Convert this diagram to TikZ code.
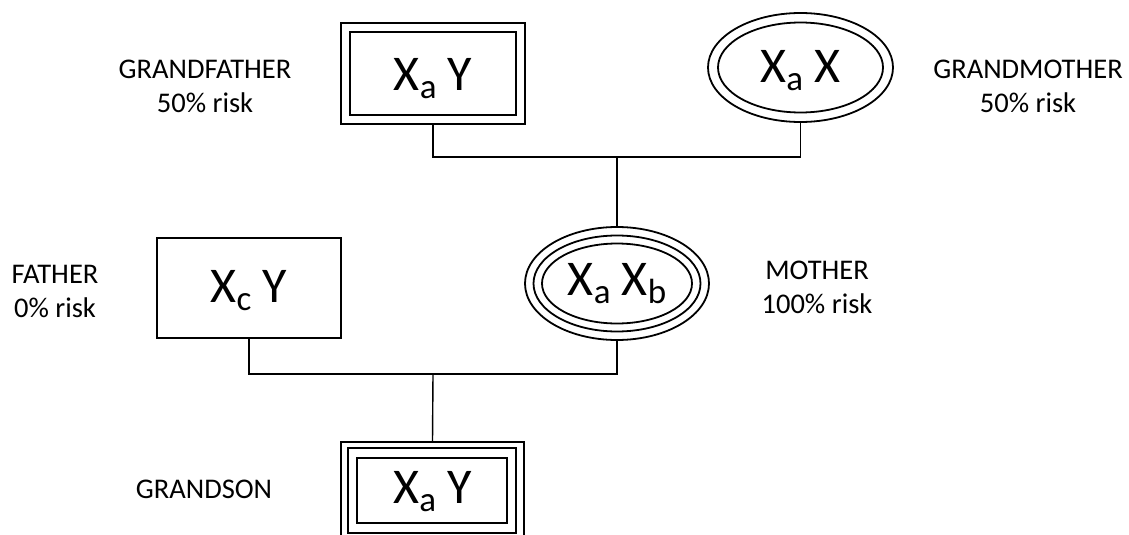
\documentclass[tikz,border=0pt]{standalone}
\usepackage{fontspec}
\setmainfont{Carlito}
\usetikzlibrary{shapes.geometric}
\newcommand{\subx}[1]{{\fontsize{35}{35}\selectfont\raisebox{-8pt}{#1}}}
\begin{document}
\begin{tikzpicture}[x=1pt,y=-1pt,
  shape line/.style={line width=1.8pt},
  conn/.style={line width=1.4pt},
  gene/.style={font=\fontsize{50}{50}\selectfont, inner sep=0pt, text depth=0pt},
  boxnode/.style={gene, draw, shape line, rectangle},
  ovalnode/.style={gene, draw, shape line, ellipse},
  lbl/.style={font=\fontsize{28.5}{34}\selectfont, align=center, inner sep=0pt}]
\useasboundingbox (0,0) rectangle (1129,535);
\clip (0,0) rectangle (1129,535);

% nodes
\node[boxnode, minimum width=184pt, minimum height=101pt, text height=33pt] (gf) at (433,73.5) {X\subx{a} Y};
\draw[shape line] ([shift={(10,10)}]gf.north west) rectangle ([shift={(-10,-10)}]gf.south east);

\node[ovalnode, minimum width=185pt, minimum height=109pt, text height=29pt] (gm) at (800.5,67.5) {X\subx{a} X};
\draw[shape line] (gm.center) ellipse [x radius=82.5, y radius=45];

\node[boxnode, minimum width=184pt, minimum height=100pt, text height=28pt] (fa) at (249,288) {X\subx{c} Y};

\node[ovalnode, minimum width=184pt, minimum height=113pt, text height=23pt] (mo) at (617,283.5) {X\subx{a} X\subx{b}};
\draw[shape line] (mo.center) ellipse [x radius=83.5, y radius=48];
\draw[shape line] (mo.center) ellipse [x radius=75, y radius=40];

\node[boxnode, minimum width=183pt, minimum height=98pt, text height=24pt] (gs) at (432.5,491) {X\subx{a} Y};
\draw[shape line] ([shift={(8,7)}]gs.north west) rectangle ([shift={(-9,-8)}]gs.south east);
\draw[shape line] ([shift={(17,17)}]gs.north west) rectangle ([shift={(-18,-18)}]gs.south east);

% labels
\node[lbl] (lgf) at (205,86.5) {GRANDFATHER\\50\% risk};
\node[lbl] (lgm) at (1028,86.5) {GRANDMOTHER\\50\% risk};
\node[lbl] (lfa) at (55,291) {FATHER\\0\% risk};
\node[lbl] (lmo) at (817,287) {MOTHER\\100\% risk};
\node[lbl, anchor=base] (lgs) at (204,498) {GRANDSON};

% connectors
\coordinate (gpj) at (617,157);
\coordinate (ppj) at (433,374);
\draw[conn] (gf.south) |- (gpj) -| (gm.south);
\draw[conn] (gpj) -- (mo.north);
\draw[conn] (fa.south) |- (ppj) -| (mo.south);
\draw[conn] (ppj) -- (gs.north);
\end{tikzpicture}
\end{document}
